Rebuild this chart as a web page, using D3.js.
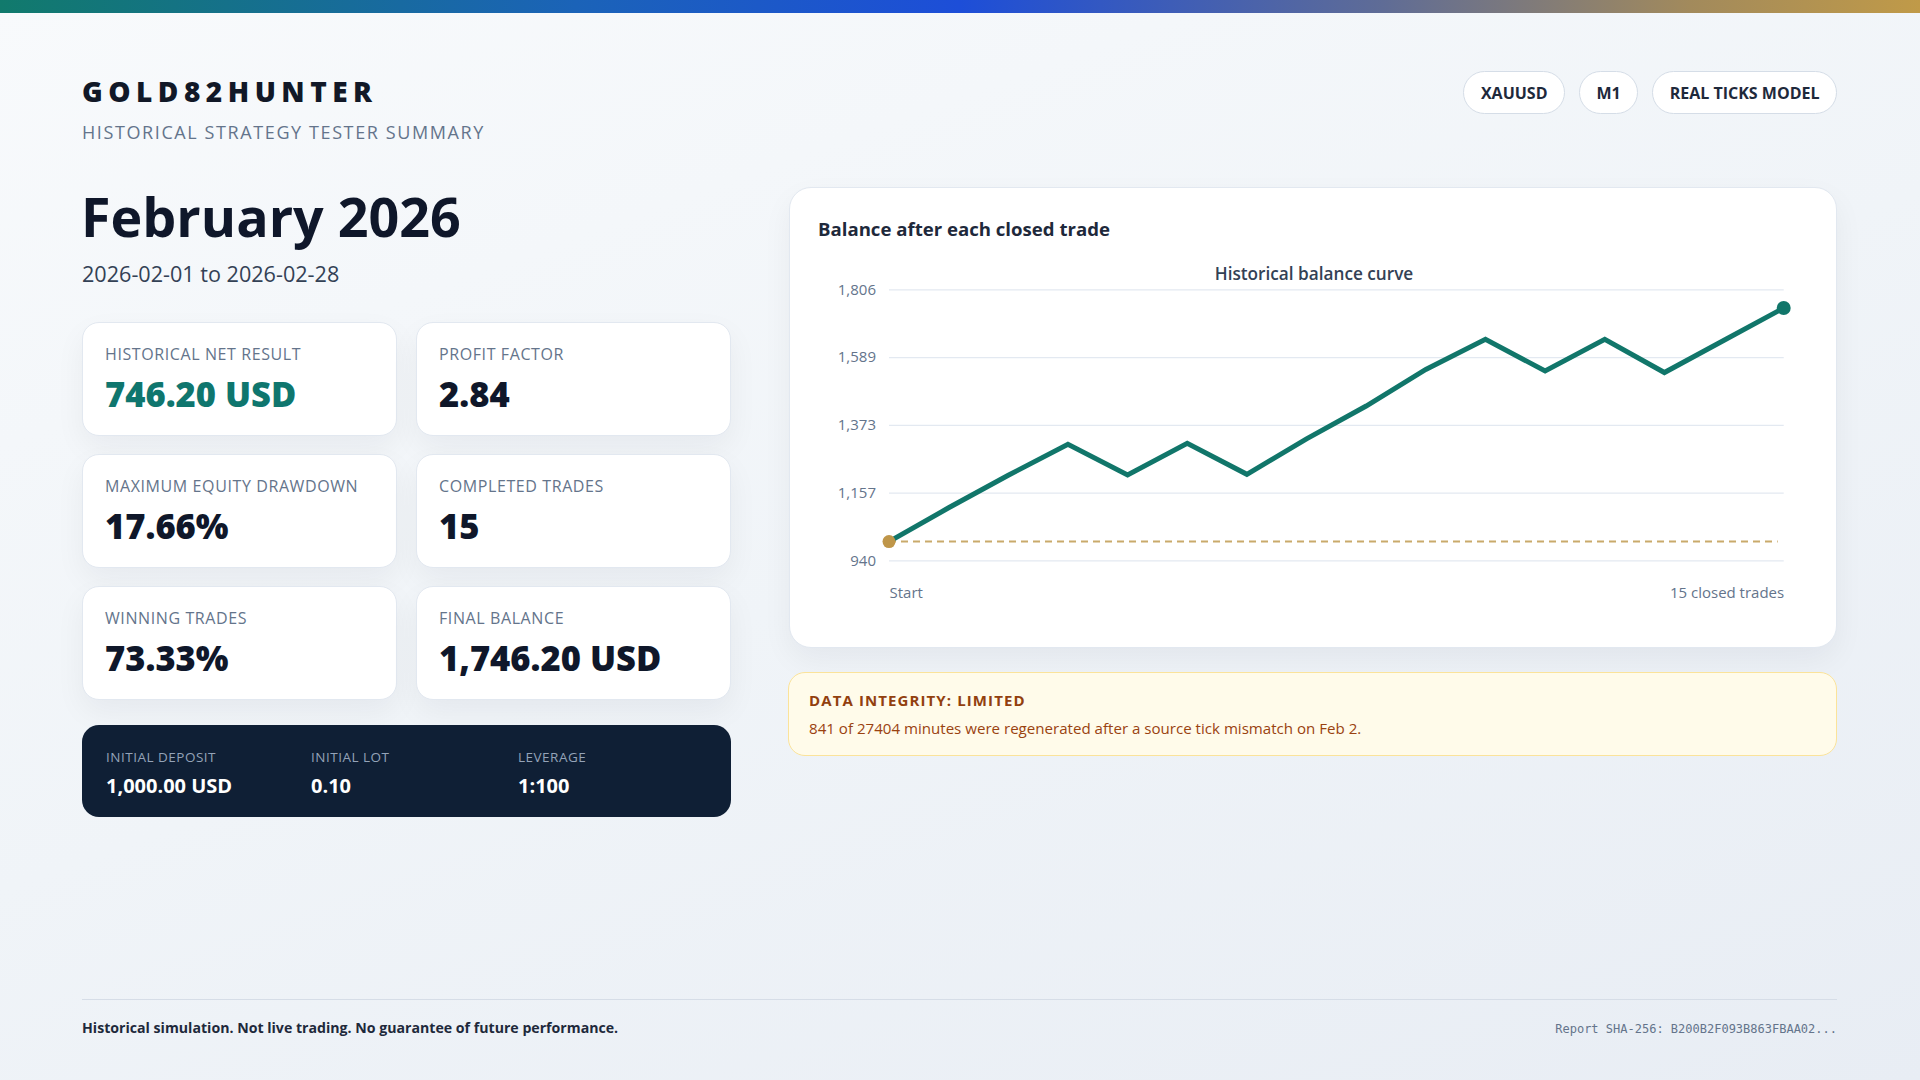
<!DOCTYPE html>
<html>
<head>
<meta charset="utf-8">
<script src="https://cdn.jsdelivr.net/npm/d3@7"></script>
<style>
  html, body { margin: 0; padding: 0; }
  body {
    width: 1920px; height: 1080px; overflow: hidden; position: relative;
    font-family: "Open Sans", "Noto Sans", sans-serif;
    background: linear-gradient(160deg, #f8fafc 0%, #f0f4f8 50%, #e8edf4 100%);
    color: #0f172a;
  }
  .abs { position: absolute; line-height: 1; white-space: nowrap; }
  .topbar { left: 0; top: 0; width: 1920px; height: 13px;
    background: linear-gradient(90deg, #117a6c 0%, #1b63b8 30%, #1d4ed8 50%, #5f6c96 72%, #a28a5c 88%, #c09a48 100%); }
  .brand { left: 82px; top: 77px; font-size: 28px; font-weight: 800; letter-spacing: 5.5px; color: #111827; }
  .sub { left: 82px; top: 123px; font-size: 18px; font-weight: 400; letter-spacing: 1.6px; color: #64748b; }
  .month { left: 81px; top: 190px; font-size: 53.8px; font-weight: 700; color: #0f172a; }
  .dates { left: 82px; top: 263px; font-size: 21.6px; color: #334155; }
  .badge { top: 71px; height: 41px; border: 1px solid #d5dde7; background: #fff; border-radius: 22px;
    display: flex; align-items: center; padding: 0 16.5px; font-size: 16px; font-weight: 700; color: #1e293b; }
  .card { background: #fff; border: 1px solid #e2e8f0; border-radius: 17px; box-sizing: border-box;
    box-shadow: 0 12px 30px rgba(15, 23, 42, 0.05); }
  .card .lab { position: absolute; left: 22px; top: 23px; font-size: 16px; letter-spacing: 0.6px; color: #64748b; line-height: 1; white-space: nowrap; }
  .card .val { position: absolute; left: 22px; top: 54px; font-size: 34.5px; font-weight: 800; color: #0f172a; line-height: 1; white-space: nowrap; }
  .dark { left: 82px; top: 725px; width: 649px; height: 92px; background: #0f1f35; border-radius: 17px; }
  .dark .lab { position: absolute; top: 26px; font-size: 13.5px; letter-spacing: 0.5px; color: #94a3b8; line-height: 1; white-space: nowrap; }
  .dark .val { position: absolute; top: 51px; font-size: 20px; font-weight: 700; color: #fff; line-height: 1; white-space: nowrap; }
  .chartcard { left: 789px; top: 187px; width: 1048px; height: 461px; border-radius: 22px; }
  .chartcard .title { position: absolute; left: 28px; top: 32px; font-size: 18.6px; font-weight: 700; color: #1e293b; line-height: 1; white-space: nowrap; }
  .chartcard svg { position: absolute; left: 0; top: 0; }
  .warn { left: 788px; top: 672px; width: 1049px; height: 84px; box-sizing: border-box; background: #fffbea;
    border: 1px solid #fbe39a; border-radius: 17px; }
  .warn .t { position: absolute; left: 20px; top: 20px; font-size: 15px; font-weight: 700; letter-spacing: 1.1px; color: #92400e; line-height: 1; white-space: nowrap; }
  .warn .b { position: absolute; left: 20px; top: 48px; font-size: 15.1px; color: #9a4210; line-height: 1; white-space: nowrap; }
  .rule { left: 82px; top: 999px; width: 1755px; height: 1px; background: #d6dde7; }
  .disc { left: 82px; top: 1021px; font-size: 14.15px; font-weight: 700; color: #1e293b; }
  .hash { right: 83px; top: 1023px; font-family: "DejaVu Sans Mono", monospace; font-size: 12px; color: #64748b; }
</style>
</head>
<body>
<div class="abs topbar"></div>
<div class="abs brand">GOLD82HUNTER</div>
<div class="abs sub">HISTORICAL STRATEGY TESTER SUMMARY</div>
<div class="abs month">February 2026</div>
<div class="abs dates">2026-02-01 to 2026-02-28</div>
<div id="badges"></div>
<div id="cards"></div>
<div class="abs dark" id="dark"></div>
<div class="abs card chartcard" id="chart"><div class="title">Balance after each closed trade</div></div>
<div class="abs warn">
  <div class="t">DATA INTEGRITY: LIMITED</div>
  <div class="b">841 of 27404 minutes were regenerated after a source tick mismatch on Feb 2.</div>
</div>
<div class="abs rule"></div>
<div class="abs disc">Historical simulation. Not live trading. No guarantee of future performance.</div>
<div class="abs hash">Report SHA-256: B200B2F093B863FBAA02...</div>

<script>
// balance curve: start + 15 closed trades
const trades = [0, 1, 2, 3, 4, 5, 6, 7, 8, 9, 10, 11, 12, 13, 14, 15];
const balance = [1000, 1108, 1212, 1311, 1213, 1314, 1215, 1328, 1433, 1550, 1646, 1545, 1646, 1540, 1643, 1746.2];
const initialDeposit = 1000;
const yTicks = [940.304, 1156.702, 1373.1, 1589.498, 1805.896];
const xLabels = ["Start", "15 closed trades"];

const badgeLabels = ["XAUUSD", "M1", "REAL TICKS MODEL"];

const metricLabels = ["HISTORICAL NET RESULT", "PROFIT FACTOR", "MAXIMUM EQUITY DRAWDOWN", "COMPLETED TRADES", "WINNING TRADES", "FINAL BALANCE"];
const metricValues = ["746.20 USD", "2.84", "17.66%", "15", "73.33%", "1,746.20 USD"];

const setupLabels = ["INITIAL DEPOSIT", "INITIAL LOT", "LEVERAGE"];
const setupValues = ["1,000.00 USD", "0.10", "1:100"];

// badges, laid out from the right edge
const badges = d3.select("#badges").selectAll("div")
  .data(badgeLabels)
  .enter().append("div")
  .attr("class", "abs badge")
  .text(d => d);
let right = 1837;
badges.nodes().reverse().forEach(n => {
  const w = n.getBoundingClientRect().width;
  right -= w;
  n.style.left = right + "px";
  right -= 14;
});

// metric cards
const cards = d3.select("#cards").selectAll("div")
  .data(metricLabels)
  .enter().append("div")
  .attr("class", "abs card")
  .style("left", (d, i) => (i % 2 ? 416 : 82) + "px")
  .style("top", (d, i) => (322 + Math.floor(i / 2) * 132) + "px")
  .style("width", "315px")
  .style("height", "114px");
cards.append("div").attr("class", "lab").text(d => d);
cards.append("div").attr("class", "val")
  .style("color", (d, i) => i === 0 ? "#0f766e" : null)
  .text((d, i) => metricValues[i]);

// setup strip
const colX = [24, 229, 436];
const dark = d3.select("#dark");
dark.selectAll(".lab").data(setupLabels).enter().append("div")
  .attr("class", "lab").style("left", (d, i) => colX[i] + "px").text(d => d);
dark.selectAll(".val").data(setupValues).enter().append("div")
  .attr("class", "val").style("left", (d, i) => colX[i] + "px").text(d => d);

// chart
const W = 1048, H = 461;
const margin = { top: 101.3, left: 99, right: 54.3, bottom: 88.7 },
  width = W - margin.left - margin.right,
  height = H - margin.top - margin.bottom;

const svg = d3.select("#chart").append("svg")
  .attr("width", W)
  .attr("height", H);

svg.append("text")
  .attr("x", W / 2)
  .attr("y", 92)
  .attr("text-anchor", "middle")
  .style("font-family", "Open Sans")
  .style("font-size", "17.2px")
  .style("font-weight", 600)
  .style("fill", "#334155")
  .text("Historical balance curve");

const g = svg.append("g")
  .attr("transform", "translate(" + margin.left + "," + margin.top + ")");

const x = d3.scaleLinear()
  .domain([trades[0], trades[trades.length - 1]])
  .range([0, width]);

const y = d3.scaleLinear()
  .domain([yTicks[0], yTicks[yTicks.length - 1]])
  .range([height, 0]);

const yAxis = g.append("g")
  .call(d3.axisLeft(y).tickValues(yTicks).tickSize(-width).tickPadding(13).tickFormat(d3.format(",.0f")));
yAxis.select(".domain").remove();
yAxis.selectAll("line").attr("stroke", "#e3e9f1").attr("stroke-width", 1.2);
yAxis.selectAll("text")
  .style("font-family", "Open Sans")
  .style("font-size", "15px")
  .style("fill", "#64748b");

const xAxis = g.append("g")
  .attr("transform", "translate(0," + height + ")")
  .call(d3.axisBottom(x)
    .tickValues([trades[0], trades[trades.length - 1]])
    .tickSize(0)
    .tickPadding(0)
    .tickFormat((d, i) => xLabels[i]));
xAxis.select(".domain").remove();
xAxis.selectAll("text")
  .attr("y", 38)
  .attr("dy", 0)
  .attr("text-anchor", (d, i) => i === 0 ? "start" : "end")
  .style("font-family", "Open Sans")
  .style("font-size", "15px")
  .style("fill", "#64748b");

g.append("line")
  .attr("x1", x(trades[0]))
  .attr("x2", x(trades[trades.length - 1]) - 6)
  .attr("y1", y(initialDeposit))
  .attr("y2", y(initialDeposit))
  .attr("stroke", "#c9aa6b")
  .attr("stroke-width", 2)
  .attr("stroke-dasharray", "7,5");

const line = d3.line()
  .x((d, i) => x(trades[i]))
  .y(d => y(d));

g.append("path")
  .datum(balance)
  .attr("fill", "none")
  .attr("stroke", "#11766a")
  .attr("stroke-width", 5)
  .attr("stroke-linejoin", "miter")
  .attr("d", line);

g.append("circle")
  .attr("cx", x(trades[0]))
  .attr("cy", y(balance[0]))
  .attr("r", 6.5)
  .attr("fill", "#bf9649");

g.append("circle")
  .attr("cx", x(trades[trades.length - 1]))
  .attr("cy", y(balance[balance.length - 1]))
  .attr("r", 7)
  .attr("fill", "#11766a");
</script>
</body>
</html>
